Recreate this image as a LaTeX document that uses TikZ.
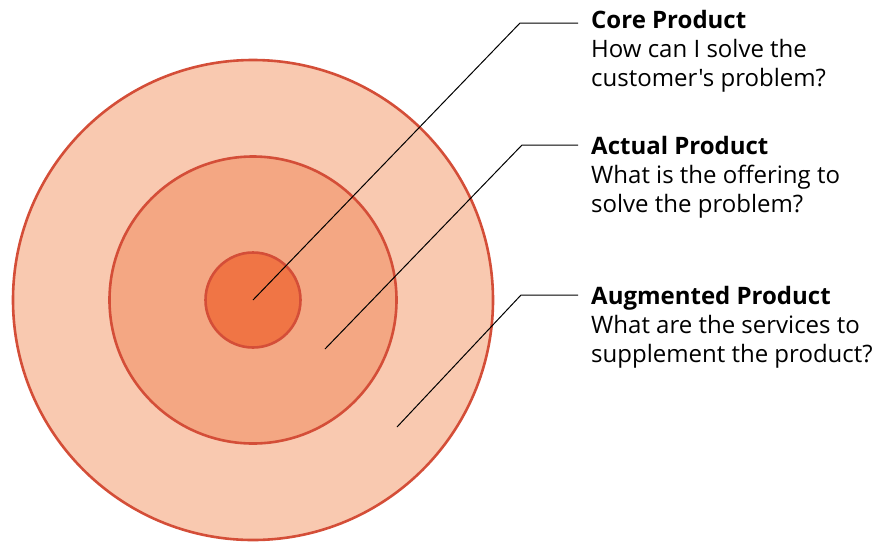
\documentclass[tikz,border=0pt]{standalone}
\usepackage{fontspec}
\setmainfont{Open Sans}[Ligatures=TeXOff]
\definecolor{outerc}{RGB}{249,201,176}
\definecolor{midc}{RGB}{244,167,131}
\definecolor{innerc}{RGB}{240,117,69}
\definecolor{strokec}{RGB}{212,78,56}
\begin{document}
\begin{tikzpicture}[x=1pt,y=-1pt,
  ring/.style={draw=strokec,line width=2.6pt},
  leader/.style={draw=black,line width=1pt},
  lbl/.style={anchor=base west,align=left,inner sep=0pt,font=\fontsize{24}{29}\selectfont}]
\useasboundingbox (0,0) rectangle (881,542);
\fill[outerc] (253,300) circle (240);
\draw[ring] (253,300) circle (240);
\draw[ring,fill=midc] (253,300) circle (143.5);
\draw[ring,fill=innerc] (253,300) circle (47.5);
\coordinate (c1) at (253,300);
\coordinate (c2) at (325,349);
\coordinate (c3) at (397,427);
\coordinate (k1) at (520,23);
\coordinate (k2) at (522,145);
\coordinate (k3) at (521,295);
\coordinate (e1) at (578,23);
\coordinate (e2) at (578,145);
\coordinate (e3) at (578,295);
\draw[leader] (c1) -- (k1) -- (e1);
\draw[leader] (c2) -- (k2) -- (e2);
\draw[leader] (c3) -- (k3) -- (e3);
\node[lbl] (t1) at (591,86) {\textbf{Core Product}\\How can I solve the\\customer's problem?};
\node[lbl] (t2) at (591,212) {\textbf{Actual Product}\\What is the offering to\\solve the problem?};
\node[lbl] (t3) at (591,362) {\textbf{Augmented Product}\\What are the services to\\supplement the product?};
\end{tikzpicture}
\end{document}
